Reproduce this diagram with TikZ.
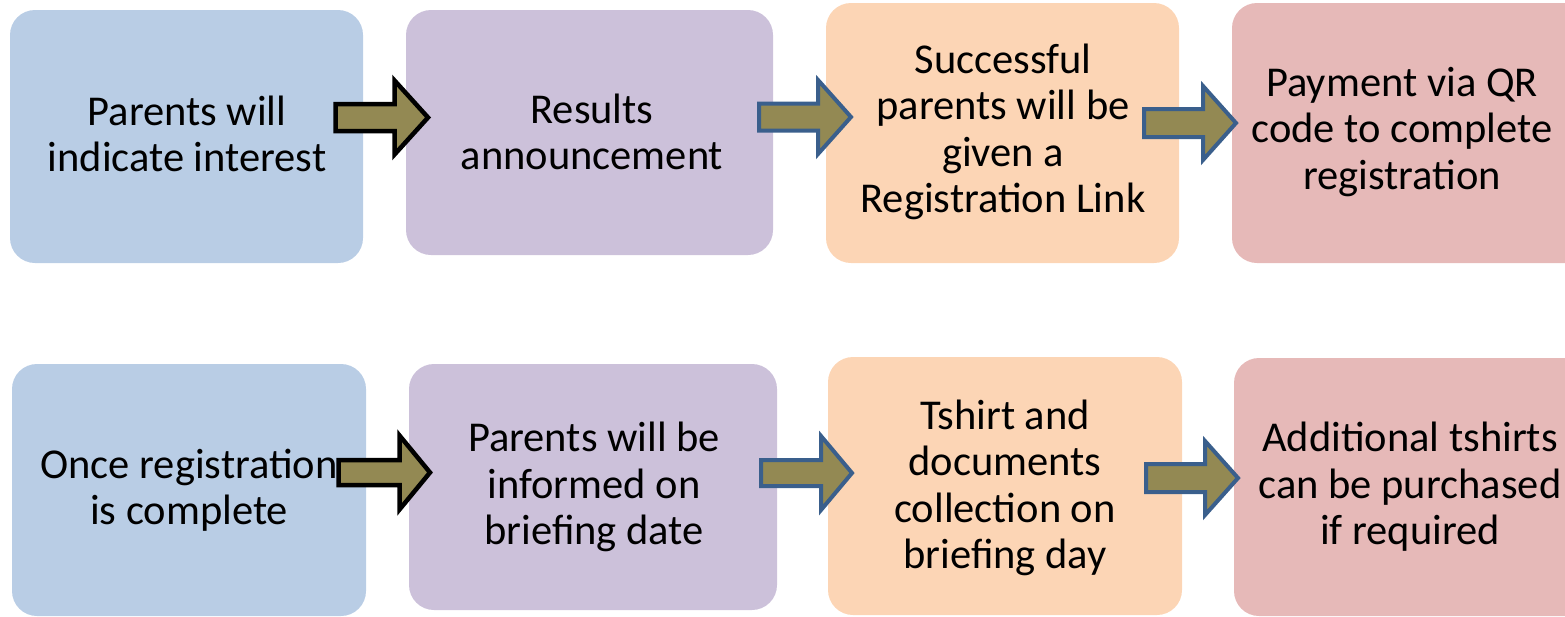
\documentclass[tikz,border=0pt]{standalone}
\usepackage{fontspec}
\setmainfont{Carlito}
\definecolor{cblue}{HTML}{B9CDE5}
\definecolor{cpurple}{HTML}{CCC1DA}
\definecolor{corange}{HTML}{FCD5B5}
\definecolor{cpink}{HTML}{E6B9B8}
\definecolor{olive}{HTML}{938953}
\definecolor{arrblue}{HTML}{3A5F8C}
\newcommand{\blockarrow}[7]{%
  % #1 style, #2 shaft left, #3 head back, #4 tip, #5 yc, #6 shaft half, #7 head half
  \draw[#1] (#2,#5-#6) -- (#3,#5-#6) -- (#3,#5-#7) -- (#4,#5) -- (#3,#5+#7)
    -- (#3,#5+#6) -- (#2,#5+#6) -- cycle;}
\begin{document}
\begin{tikzpicture}[x=1pt,y=-1pt,
  box/.style={rounded corners=25pt, inner sep=0pt, align=center,
    font=\fontsize{42.5}{46.5}\selectfont},
  txt/.style={inner sep=0pt, align=center, font=\fontsize{42.5}{46.5}\selectfont},
  blackarrow/.style={fill=olive, draw=black, line width=4.5pt, miter limit=10},
  bluearrow/.style={fill=olive, draw=arrblue, line width=4pt, miter limit=10}]
\useasboundingbox (0,0) rectangle (1565,616);
\clip (0,0) rectangle (1565,616);
% row 1
\node[box, fill=cblue, minimum width=353pt, minimum height=253pt] (b1) at (186.5,136.5) {};
\node[txt] (b1t) at (187,134) {Parents will\\indicate interest};
\node[box, fill=cpurple, minimum width=367pt, minimum height=245pt] (b2) at (589.5,132.5) {};
\node[txt] (b2t) at (592,132) {Results\\announcement};
\node[box, fill=corange, minimum width=353pt, minimum height=260pt] (b3) at (1002.5,133) {};
\node[txt] (b3t) at (1003,132) {Successful\\parents will be\\given a\\Registration Link};
\node[box, fill=cpink, minimum width=380pt, minimum height=260pt] (b4) at (1422,133) {};
\node[txt] (b4t) at (1402,132) {Payment via QR\\code to complete\\registration};
% row 2
\node[box, fill=cblue, minimum width=354pt, minimum height=252pt] (b5) at (189,490) {};
\node[txt] (b5t) at (189,490) {Once registration\\is complete};
\node[box, fill=cpurple, minimum width=368pt, minimum height=246pt] (b6) at (593,487) {};
\node[txt] (b6t) at (594,487) {Parents will be\\informed on\\briefing date};
\node[box, fill=corange, minimum width=354pt, minimum height=258pt] (b7) at (1005,486) {};
\node[txt] (b7t) at (1005,488) {Tshirt and\\documents\\collection on\\briefing day};
\node[box, fill=cpink, minimum width=380pt, minimum height=258pt] (b8) at (1424,487) {};
\node[txt] (b8t) at (1410,487) {Additional tshirts\\can be purchased\\if required};
% arrows
\blockarrow{blackarrow}{335.5}{394.5}{428}{117.5}{13.5}{37}
\blockarrow{bluearrow}{759}{818}{851}{117}{13.5}{37}
\blockarrow{bluearrow}{1144}{1203}{1236}{123}{14}{37}
\blockarrow{blackarrow}{338.5}{399.5}{430}{472.5}{12.5}{37}
\blockarrow{bluearrow}{761}{821}{852}{473}{13}{37}
\blockarrow{bluearrow}{1146}{1205}{1238}{478}{14}{37}
\end{tikzpicture}
\end{document}
